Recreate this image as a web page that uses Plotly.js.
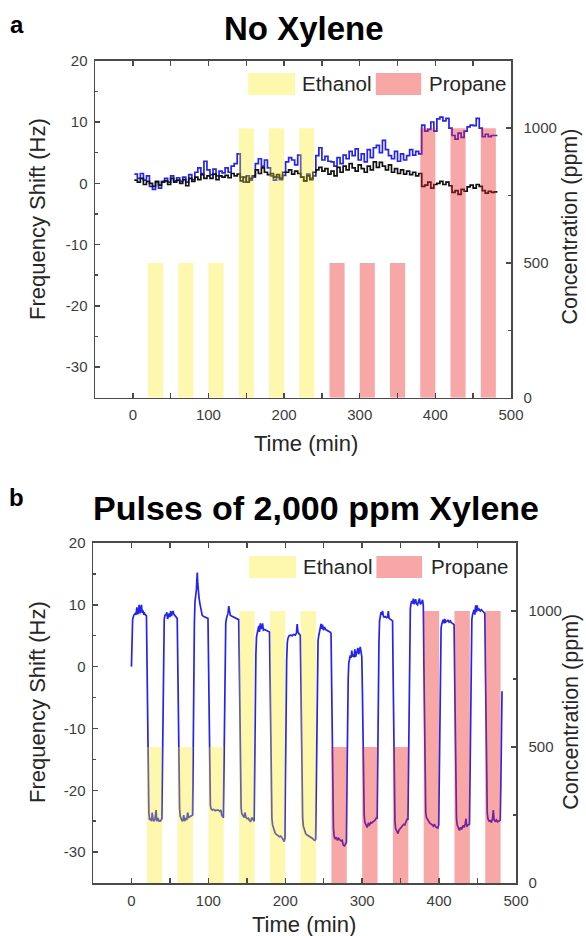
<!DOCTYPE html>
<html>
<head>
<meta charset="utf-8">
<script src="https://cdn.plot.ly/plotly-3.0.1.min.js"></script>
<style>
  html, body { margin: 0; padding: 0; background: #ffffff; }
  #chart { width: 586px; height: 936px; }
</style>
</head>
<body>
<div id="chart"></div>
<script>
// ---- Exposure schedule (shared by both runs) ----
const ethanolTimes = [30, 70, 110, 150, 190, 230];
const ethanolConc = [500, 500, 500, 1000, 1000, 1000];
const propaneTimes = [270, 310, 350, 390, 430, 470];
const propaneConc = [500, 500, 500, 1000, 1000, 1000];
const pulseWidth = 20;

// ---- Tick labels ----
const timeTicks = [0, 100, 200, 300, 400, 500];
const shiftTicks = [-30, -20, -10, 0, 10, 20];
const shiftTickText = ['-30', '-20', '-10', '0', '10', '20'];
const concTicks = [0, 500, 1000];

// ---- Run a: no xylene, two sensors ----
const timeA = [
  2, 6, 10, 14, 18, 22, 26, 30, 34, 38, 42, 46, 50, 54, 58, 62, 66, 70, 74, 78,
  82, 86, 90, 94, 98, 102, 106, 110, 114, 118, 122, 126, 130, 134, 138, 142, 146, 150, 154, 158,
  162, 166, 170, 174, 178, 182, 186, 190, 194, 198, 202, 206, 210, 214, 218, 222, 226, 230, 234, 238,
  242, 246, 250, 254, 258, 262, 266, 270, 274, 278, 282, 286, 290, 294, 298, 302, 306, 310, 314, 318,
  322, 326, 330, 334, 338, 342, 346, 350, 354, 358, 362, 366, 370, 374, 378, 382, 386, 390, 394, 398,
  402, 406, 410, 414, 418, 422, 426, 430, 434, 438, 442, 446, 450, 454, 458, 462, 466, 470, 474, 478,
  482
];
const blueShiftA = [
  1.5, 0.8, 1.6, 0.5, 1.2, -0.5, -1.0, 0.2, -0.8, 0.3, 0.8, 0.2, 1.2, 0.4, 0.9, 0.3, 1.0, 0.2, 1.4, 0.6,
  1.8, 2.5, 1.6, 3.6, 2.2, 1.4, 2.3, 1.2, 2.0, 1.7, 2.5, 1.8, 2.8, 3.2, 4.8, 1.0, 0.2, 1.2, 0.5, 1.0,
  3.2, 4.0, 2.8, 3.8, 2.5, 1.2, 0.5, 1.0, 0.6, 1.3, 3.5, 4.2, 3.8, 3.0, 4.6, 1.0, 0.4, 1.5, 0.8, 1.2,
  4.5, 5.8, 3.8, 4.4, 3.6, 3.5, 2.8, 4.2, 3.2, 4.6, 4.0, 5.2, 4.5, 5.6, 3.8, 4.8, 3.5, 5.5, 4.2, 5.8,
  6.2, 5.0, 7.0, 5.5, 4.5, 4.0, 5.2, 3.6, 4.8, 3.8, 4.5, 5.5, 4.6, 5.2, 4.8, 9.5, 8.5, 8.8, 10.0, 8.5,
  10.5, 10.8, 10.2, 10.6, 9.0, 7.8, 7.2, 8.2, 7.5, 8.5, 9.2, 9.5, 9.4, 10.6, 9.0, 7.6, 8.0, 7.6, 7.8, 7.8,
  7.8
];
const blackShiftA = [
  0.5, 0.2, 0.8, -0.2, 0.3, 0.0, -0.5, 0.3, -0.3, 0.2, 0.4, -0.2, 0.8, 0.2, 0.5, 0.0, 0.6, -0.4, 0.8, 0.3,
  1.0, 0.6, 1.4, 0.8, 1.2, 0.8, 1.5, 0.6, 1.2, 1.0, 1.3, 0.9, 1.6, 1.2, 1.5, 0.4, 1.0, 0.2, 0.8, 1.2,
  2.2, 1.6, 2.5, 1.8, 1.4, 1.6, 1.0, 1.4, 0.8, 1.8, 1.8, 2.2, 1.5, 2.0, 1.6, 1.0, 0.4, 1.2, 0.6, 1.8,
  2.2, 2.6, 2.0, 2.4, 1.5, 2.0, 1.2, 2.6, 1.8, 2.8, 2.2, 3.2, 2.5, 2.0, 3.0, 2.4, 1.8, 2.8, 2.2, 3.5,
  2.6, 3.4, 2.8, 2.2, 3.0, 1.8, 2.4, 1.6, 2.2, 1.5, 2.0, 1.4, 1.8, 1.2, 1.6, -0.5, -0.3, 0.2, -0.8, -0.2,
  0.0, 0.3, -0.2, 0.2, -0.4, -1.5, -1.2, -1.8, -1.0, -1.3, -0.6, -0.3, -0.8, -0.2, -0.5, -1.2, -1.6, -1.3, -1.5, -1.4,
  -1.4
];

// ---- Run b: pulses of 2,000 ppm xylene ----
const timeB = [
  0, 0.5, 1.5, 3, 5, 6, 7, 8, 9, 10, 11, 12, 13, 14, 15, 16, 17, 18, 19.5,
  20.3, 21, 21.8, 22.6, 23.5, 25, 26, 27, 28, 29, 30.5, 32, 33, 34.5, 36, 37.5, 39.5,
  40.3, 41, 41.8, 42.6, 43.5, 45, 46, 47, 48, 49, 50, 51, 52, 53, 54, 55, 56, 57, 58, 59.5,
  60.3, 61, 61.8, 62.6, 63.5, 65, 66, 67, 68, 69, 70.5, 72, 73, 74.5, 76, 77.5, 79.5,
  80.3, 81, 81.8, 82.6, 83.5, 84.5, 85, 85.6, 86.2, 87, 88, 89, 90, 91, 92, 94, 96, 98, 99.5,
  100.3, 101, 101.8, 102.6, 103.5, 105, 107, 109, 111, 113, 115, 116.5, 117.5, 118.5, 119.5,
  120.3, 121, 121.8, 122.6, 123.5, 124.5, 125.5, 126.5, 127.5, 128.5, 130, 132, 134, 136, 138, 139.5,
  140.3, 141, 141.8, 142.6, 143.5, 145, 146.5, 147.5, 149, 150.5, 152, 153.5, 155, 156.5, 158, 159.5,
  160.3, 161, 161.8, 162.6, 163.5, 164.5, 165.5, 166.5, 167.5, 168.5, 169.5, 170.5, 171.5, 173, 175, 177, 179.5,
  180.3, 181, 181.8, 182.6, 183.5, 185, 186.5, 188, 189.5, 191, 192.5, 194, 195.5, 197, 198.5, 199.5,
  200.3, 201, 201.8, 202.6, 203.5, 205, 207, 209, 211, 213, 214.5, 215.5, 216.5, 218, 219.5,
  220.3, 221, 221.8, 222.6, 223.5, 225, 226.5, 228, 229.5, 231, 232.5, 234, 235.5, 237, 238.5, 239.5,
  240.3, 241, 241.8, 242.6, 243.5, 244.5, 245.5, 246.5, 247.5, 248.5, 249.5, 251, 252.5, 254, 256, 258, 259.5,
  260.3, 261, 261.8, 262.6, 263.5, 265, 266.5, 268, 269.5, 271, 272.5, 274, 275.5, 277, 278.5, 279.5,
  280.3, 281, 281.8, 282.6, 283.5, 284.5, 285.5, 286.5, 287.5, 288.5, 289.5, 290.5, 291.5, 293, 294.5, 295.5, 296.5, 297.5, 298.5, 299.5,
  300.3, 301, 301.8, 302.6, 303.5, 305, 306.5, 308, 309.5, 311, 312.5, 314, 315.5, 317, 318.5, 319.5,
  320.3, 321, 321.8, 322.6, 323.5, 324.5, 325.5, 326.5, 327.5, 328.5, 330, 331.5, 333, 334, 335, 336.5, 338, 339.5,
  340.3, 341, 341.8, 342.6, 343.5, 345, 346.5, 348, 349.5, 351, 352.5, 354, 355.5, 357, 358.5, 359.5,
  360.3, 361, 361.8, 362.6, 363.5, 364.5, 365.5, 366.5, 367.5, 368.5, 369.5, 370.5, 372, 373.5, 374.5, 375.5, 377, 378.5, 379.5,
  380.3, 381, 381.8, 382.6, 383.5, 385, 386.5, 388, 389.5, 391, 392.5, 394, 395.5, 397, 398.5, 399.5,
  400.3, 401, 401.8, 402.6, 403.5, 404.5, 405.5, 406.5, 407.5, 408.5, 410, 411.5, 413, 414.5, 416, 417.5, 419.5,
  420.3, 421, 421.8, 422.6, 423.5, 425, 426.5, 428, 429.5, 431, 432.5, 434, 435, 436, 437.5, 439.5,
  440.3, 441, 441.8, 442.6, 443.5, 444.5, 445.5, 446.5, 447.5, 448.5, 449.5, 450.5, 452, 453.5, 455, 456.5, 458, 459.5,
  460.3, 461, 461.8, 462.6, 463.5, 465, 466.5, 468, 469.5, 470.5, 471.5, 473, 474.5, 476, 477.5, 479.5,
  480.3, 481, 481.8
];
const shiftB = [
  0, 4.5, 7.6, 8.3, 8.6, 8.4, 9.6, 8.5, 8.7, 10, 8.6, 9.3, 10, 8.7, 9.1, 8.4, 8.6, 8.4, 8.2,
  0, -12, -20, -23.5, -24.8, -24.5, -25, -23.6, -24.6, -25, -24.7, -23.2, -25, -24.5, -25, -25, -24.6,
  -14, -2, 5, 7.6, 8.3, 8.4, 8.8, 7.7, 8.2, 8.6, 8.0, 9.0, 8.2, 8.7, 9.0, 8.5, 8.3, 8.2, 8.0, 7.8,
  0, -12, -20, -23, -24.2, -24.6, -25, -24.8, -24, -25, -24.6, -24.8, -23.6, -24.4, -24.3, -24.2, -24,
  -14, -1, 7, 10.5, 11.2, 12.5, 14, 15.2, 13.5, 12, 11, 10.2, 9.3, 8.6, 8.3, 8.1, 8.0, 8.0, 7.8,
  0, -11, -19, -22.4, -23, -23.2, -23.1, -23.3, -23.2, -23.2, -23.4, -23.2, -24.2, -24, -24.5,
  -15, -3, 4, 7, 7.8, 8.2, 8.6, 9.8, 8.8, 8.3, 8.2, 8.1, 8.0, 7.9, 7.8, 7.6,
  0, -11, -19, -22.8, -23.8, -24.2, -24.4, -23.6, -24.4, -24.6, -24.5, -24.9, -25, -24.4, -24.8, -25,
  -16, -4, 2, 4.8, 5.6, 6.2, 6.6, 5.6, 7.0, 6.1, 6.3, 7.0, 5.9, 6.0, 5.9, 5.8, 5.6,
  -2, -13, -21, -24.5, -25.6, -26.3, -26.8, -27.1, -27.2, -27.3, -27.5, -27.4, -27.6, -27.9, -28.3, -27.8,
  -17, -5, 1, 3.8, 4.6, 5.0, 5.1, 5.0, 5.2, 5.1, 5.4, 6.9, 5.6, 5.3, 5.1,
  -2, -13, -21, -24.5, -25.8, -26.5, -27, -27.2, -27.3, -27.4, -27.5, -27.6, -27.8, -28.0, -28.1, -27.9,
  -17, -5, 1.5, 4.2, 5.0, 5.6, 6.3, 6.9, 6.1, 6.8, 5.9, 6.4, 6.0, 5.9, 5.8, 5.6, 5.4,
  -2, -13, -22, -26, -27.4, -27.9, -27.6, -28.1, -27.8, -28.0, -28.2, -28.1, -28.9, -29.0, -28.6, -28.4,
  -18, -8, -2, 0.6, 1.4, 1.8, 1.4, 2.6, 1.6, 2.0, 1.5, 2.8, 1.6, 2.2, 3.0, 2.0, 2.5, 3.2, 2.4, 1.6,
  -4, -14, -21, -24, -25.2, -25.8, -26, -25.4, -25.6, -25.2, -25.3, -25.1, -24.9, -24.8, -24.4, -24.6,
  -15, -3, 4, 7.4, 8.2, 8.8, 8.4, 9.0, 8.2, 8.0, 8.1, 7.9, 8.0, 9.0, 7.8, 7.7, 7.6, 7.4,
  -2, -13, -21, -25, -26.2, -26.8, -27.0, -26.4, -26.2, -26.0, -25.8, -25.5, -25.6, -25.0, -24.6, -24.8,
  -14, -1, 6, 9.4, 10.2, 10.6, 10.2, 11.0, 10.1, 10.4, 10.9, 10.2, 10.0, 10.6, 11.0, 10.1, 10.3, 10.8, 9.8,
  0, -12, -20, -23.5, -24.4, -24.8, -25, -25.3, -25.4, -25.6, -25.8, -25.5, -25.9, -26.0, -26.1, -25.6,
  -16, -4, 3, 6.2, 6.9, 7.2, 7.6, 7.0, 7.7, 7.2, 7.3, 7.5, 7.2, 7.4, 7.1, 7.0, 6.8,
  -2, -13, -21, -24.5, -25.6, -26.2, -26.5, -26.0, -26.3, -25.7, -26.0, -25.4, -24.6, -25.9, -25.6, -25.5,
  -15, -3, 4.5, 7.6, 8.4, 8.8, 9.2, 8.4, 9.9, 8.8, 9.9, 9.1, 9.3, 9.0, 9.2, 9.0, 8.7, 8.6,
  -1, -12, -20, -23.6, -24.6, -25.0, -24.9, -25.2, -24.6, -23.2, -24.8, -25.0, -24.8, -25.1, -25.0, -24.8,
  -19, -11, -4
];

// ---- Styling ----
const FONT = 'Liberation Sans, Arial, Helvetica, sans-serif';
const AXIS_COLOR = '#4a4a4a';
const TICK_FONT = { family: FONT, size: 15, color: '#3c3c3c' };
const ETHANOL_FILL = 'rgba(250, 233, 0, 0.32)';
const PROPANE_FILL = 'rgba(237, 35, 35, 0.4)';
const BLUE = '#2424ee';
const BLACK = '#111111';

function timeAxis(domain, anchor) {
  return {
    domain: domain, anchor: anchor, range: [-50, 500],
    showgrid: false, zeroline: false,
    showline: true, linecolor: AXIS_COLOR, linewidth: 1.5, mirror: 'allticks',
    ticks: 'inside', ticklen: 5, tickwidth: 1.5, tickcolor: AXIS_COLOR,
    tickmode: 'array', tickvals: timeTicks,
    minor: { tickmode: 'array', tickvals: [-50, 50, 150, 250, 350, 450], ticks: 'inside', ticklen: 3, tickwidth: 1.5, tickcolor: AXIS_COLOR },
    tickfont: TICK_FONT, ticklabelstandoff: 3
  };
}
function shiftAxis(domain, anchor) {
  return {
    domain: domain, anchor: anchor, range: [-35, 20],
    showgrid: false, zeroline: false,
    showline: true, linecolor: AXIS_COLOR, linewidth: 1.5,
    ticks: 'inside', ticklen: 5, tickwidth: 1.5, tickcolor: AXIS_COLOR,
    tickmode: 'array', tickvals: shiftTicks, ticktext: shiftTickText,
    minor: { tickmode: 'array', tickvals: [-25, -15, -5, 5, 15], ticks: 'inside', ticklen: 3, tickwidth: 1.5, tickcolor: AXIS_COLOR },
    tickfont: TICK_FONT, ticklabelstandoff: 3
  };
}
function concAxis(overlay, anchor) {
  return {
    overlaying: overlay, anchor: anchor, side: 'right', range: [0, 1250],
    showgrid: false, zeroline: false,
    showline: true, linecolor: AXIS_COLOR, linewidth: 1.5,
    ticks: 'inside', ticklen: 5, tickwidth: 1.5, tickcolor: AXIS_COLOR,
    tickmode: 'array', tickvals: concTicks,
    minor: { tickmode: 'array', tickvals: [250, 750], ticks: 'inside', ticklen: 3, tickwidth: 1.5, tickcolor: AXIS_COLOR },
    tickfont: TICK_FONT, ticklabelstandoff: 8
  };
}

function lineTrace(x, y, color, xa, ya) {
  return { type: 'scatter', mode: 'lines', x: x, y: y, xaxis: xa, yaxis: ya,
           line: { color: color, width: 1.7, shape: 'hv' }, showlegend: false, hoverinfo: 'skip' };
}
function smoothTrace(x, y, color, xa, ya) {
  return { type: 'scatter', mode: 'lines', x: x, y: y, xaxis: xa, yaxis: ya,
           line: { color: color, width: 1.7 }, showlegend: false, hoverinfo: 'skip' };
}
function barTrace(x, y, fill, xa, ya) {
  return { type: 'bar', x: x, y: y, width: pulseWidth, xaxis: xa, yaxis: ya,
           marker: { color: fill, line: { width: 0 } }, showlegend: false, hoverinfo: 'skip' };
}

const data = [
  lineTrace(timeA, blueShiftA, BLUE, 'x', 'y'),
  lineTrace(timeA, blackShiftA, BLACK, 'x', 'y'),
  barTrace(ethanolTimes, ethanolConc, ETHANOL_FILL, 'x', 'y2'),
  barTrace(propaneTimes, propaneConc, PROPANE_FILL, 'x', 'y2'),
  smoothTrace(timeB, shiftB, BLUE, 'x2', 'y3'),
  barTrace(ethanolTimes, ethanolConc, ETHANOL_FILL, 'x2', 'y4'),
  barTrace(propaneTimes, propaneConc, PROPANE_FILL, 'x2', 'y4')
];

// Legend swatches and labels, placed inside each panel
function legendShapes(xref, yref, yx0, yx1, px0, px1, y0, y1) {
  return [
    { type: 'rect', xref: xref, yref: yref, x0: yx0, x1: yx1, y0: y0, y1: y1, fillcolor: ETHANOL_FILL, line: { width: 0 } },
    { type: 'rect', xref: xref, yref: yref, x0: px0, x1: px1, y0: y0, y1: y1, fillcolor: PROPANE_FILL, line: { width: 0 } }
  ];
}
const textFont = (size, bold) => ({ family: FONT, size: size, color: bold ? '#000000' : '#262626' });
function note(text, x, y, size, opts) {
  return Object.assign({ text: text, x: x, y: y, xref: 'paper', yref: 'paper', showarrow: false,
    xanchor: 'center', yanchor: 'middle', font: textFont(size, false) }, opts || {});
}
function legendLabel(text, xref, yref, x, y) {
  return { text: text, xref: xref, yref: yref, x: x, y: y, xanchor: 'left', yanchor: 'middle',
           showarrow: false, font: textFont(20.5, false) };
}

const layout = {
  width: 586, height: 936,
  margin: { l: 0, r: 0, t: 0, b: 0 },
  paper_bgcolor: '#ffffff', plot_bgcolor: '#ffffff',
  showlegend: false, barmode: 'overlay',
  xaxis: timeAxis([95 / 586, 511 / 586], 'y'),
  yaxis: shiftAxis([0.5751, 0.9351], 'x'),
  yaxis2: concAxis('y', 'x'),
  xaxis2: timeAxis([93 / 586, 516 / 586], 'y3'),
  yaxis3: shiftAxis([0.0566, 0.4199], 'x2'),
  yaxis4: concAxis('y3', 'x2'),
  shapes: [].concat(
    legendShapes('x domain', 'y domain', 0.368, 0.481, 0.675, 0.784, 0.898, 0.9635),
    legendShapes('x2 domain', 'y3 domain', 0.369, 0.480, 0.670, 0.778, 0.897, 0.962)
  ),
  annotations: [
    note('<b>a</b>', 0.029, 0.9733, 24, { font: textFont(24, true) }),
    note('<b>No Xylene</b>', 0.5188, 0.970, 33, { font: textFont(33, true) }),
    note('<b>b</b>', 0.029, 0.468, 24, { font: textFont(24, true) }),
    note('<b>Pulses of 2,000 ppm Xylene</b>', 0.539, 0.4573, 34, { font: textFont(34, true) }),
    note('Frequency Shift (Hz)', 0.063, 0.766, 22, { textangle: -90 }),
    note('Frequency Shift (Hz)', 0.063, 0.250, 22, { textangle: -90 }),
    note('Concentration (ppm)', 0.972, 0.7575, 21.5, { textangle: -90 }),
    note('Concentration (ppm)', 0.974, 0.2393, 21.5, { textangle: -90 }),
    note('Time (min)', 0.522, 0.5267, 22),
    note('Time (min)', 0.519, 0.0118, 22),
    legendLabel('Ethanol', 'x domain', 'y domain', 0.493, 0.931),
    legendLabel('Propane', 'x domain', 'y domain', 0.798, 0.931),
    legendLabel('Ethanol', 'x2 domain', 'y3 domain', 0.492, 0.930),
    legendLabel('Propane', 'x2 domain', 'y3 domain', 0.794, 0.930)
  ]
};

Plotly.newPlot('chart', data, layout, { staticPlot: true, displayModeBar: false });
</script>
</body>
</html>
